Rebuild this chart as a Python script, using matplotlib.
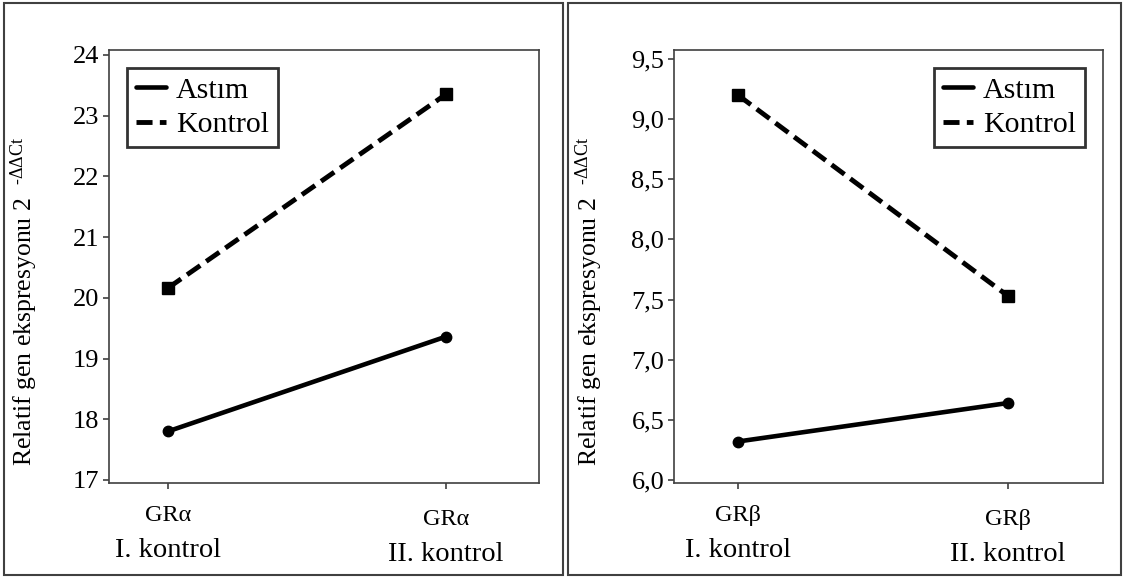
import matplotlib
matplotlib.use('Agg')
import matplotlib.pyplot as plt
from matplotlib.patches import Rectangle
import matplotlib.transforms as mtransforms

plt.rcParams['font.family'] = ['Liberation Serif', 'DejaVu Serif']
plt.rcParams['mathtext.fontset'] = 'custom'
plt.rcParams['mathtext.rm'] = 'Liberation Serif'
plt.rcParams['mathtext.it'] = 'Liberation Serif:italic'

# data
groups = ['I. kontrol', 'II. kontrol']
genes = ['GRα', 'GRβ']
series = ['Astım', 'Kontrol']
alpha_astim = [17.8, 19.36]
alpha_kontrol = [20.16, 23.35]
beta_astim = [6.32, 6.64]
beta_kontrol = [9.2, 7.53]
alpha_ticks = [17, 18, 19, 20, 21, 22, 23, 24]
beta_ticks = [6.0, 6.5, 7.0, 7.5, 8.0, 8.5, 9.0, 9.5]
beta_ticklabels = [f'{v:.1f}'.replace('.', ',') for v in beta_ticks]

ylabel = r'Relatif gen ekspresyonu 2  $^{\mathrm{‐ΔΔCt}}$'
edge = '#404040'

fig = plt.figure(figsize=(11.24, 5.78), dpi=100)

# outer frames round each panel
for x0, x1 in ((4, 563), (568, 1121)):
    fig.patches.append(Rectangle((x0 / 1124, 3 / 578), (x1 - x0) / 1124, 572 / 578,
                                 transform=fig.transFigure, fill=False,
                                 edgecolor=edge, linewidth=1.5))

ax1 = fig.add_axes([109 / 1124, 1 - 483 / 578, 430 / 1124, 433 / 578])
ax2 = fig.add_axes([674 / 1124, 1 - 483 / 578, 429 / 1124, 433 / 578])

x = list(range(len(groups)))

panels = [
    (ax1, alpha_astim, alpha_kontrol, alpha_ticks, [str(v) for v in alpha_ticks],
     (16.95, 24.08), (-0.212, 1.335), genes[0], 'upper left'),
    (ax2, beta_astim, beta_kontrol, beta_ticks, beta_ticklabels,
     (5.975, 9.575), (-0.237, 1.352), genes[1], 'upper right'),
]

for ax, astim, kontrol, yt, ytl, ylim, xlim, gene, loc in panels:
    ax.plot(x, astim, color='black', lw=3.3, marker='o', ms=7.5, label=series[0],
            solid_capstyle='round')
    ax.plot(x, kontrol, color='black', lw=3.5, ls=(0, (3.3, 1.5)), marker='s',
            ms=8.5, label=series[1])
    ax.set_ylim(*ylim)
    ax.set_xlim(*xlim)
    ax.set_yticks(yt)
    ax.set_yticklabels(ytl, fontsize=19)
    ax.set_xticks(x)
    ax.set_xticklabels(['' for _ in x])
    ax.tick_params(axis='both', direction='out', length=4, width=1.2, color=edge,
                   pad=3)
    for s in ax.spines.values():
        s.set_color(edge)
        s.set_linewidth(1.2)
    tr = mtransforms.blended_transform_factory(ax.transData, ax.transAxes)
    for i, g in enumerate(groups):
        dy = 0.0 if i == 0 else -0.01
        ax.text(i, -0.075 + dy, gene, transform=tr, ha='center', va='center',
                fontsize=17.5)
        ax.text(i, -0.155 + dy, g, transform=tr, ha='center', va='center',
                fontsize=20.5)
    ax.set_ylabel(ylabel, fontsize=18.5)
    ax.yaxis.set_label_coords(-0.16, 0.42)
    leg = ax.legend(loc=loc, fontsize=21.5, frameon=True, fancybox=False,
                    handlelength=1.0, handletextpad=0.35, borderpad=0.3,
                    labelspacing=0.25, borderaxespad=0.6)
    leg.get_frame().set_edgecolor('black')
    leg.get_frame().set_linewidth(2)
    for h in leg.legend_handles:
        h.set_marker('')

fig.savefig('out.png', dpi=100)
